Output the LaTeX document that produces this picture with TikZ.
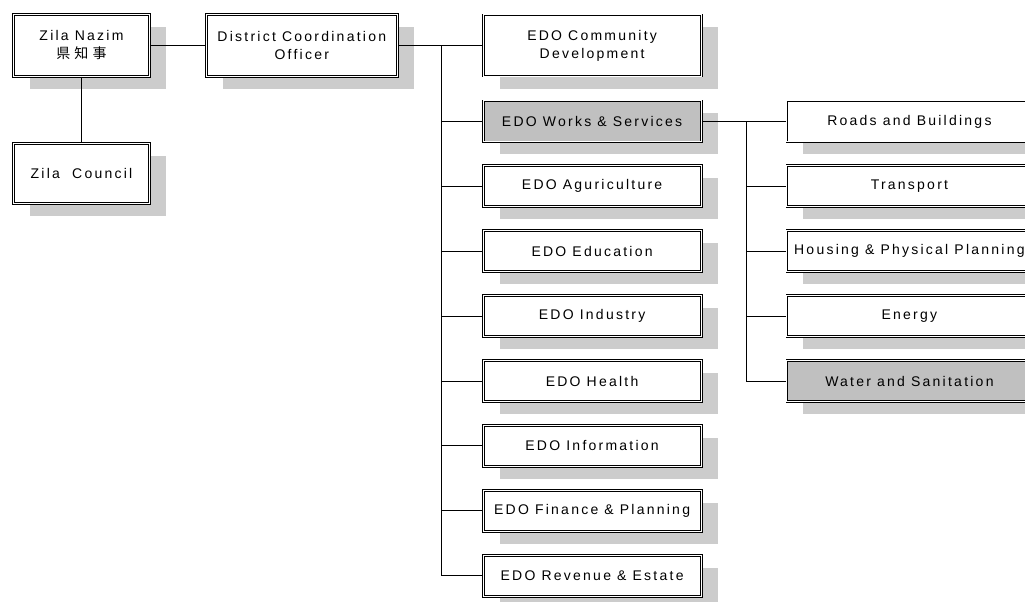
\documentclass[tikz,border=0pt]{standalone}
\usepackage{fontspec}
\setmainfont{Liberation Sans}[LetterSpace=16]
\newfontfamily\jpfont{Noto Sans CJK JP}[LetterSpace=30]
\usepackage{tikz}
\usetikzlibrary{positioning,shadows}
\definecolor{shade}{HTML}{CCCCCC}
\definecolor{boxgray}{HTML}{C0C0C0}

\begin{document}
\begin{tikzpicture}[x=1pt,y=-1pt,
  box/.style={draw,double,double distance=1pt,line width=0.9pt,fill=white,
    general shadow={fill=shade,shadow xshift=16.5pt,shadow yshift=-12.5pt},
    minimum width=218pt,minimum height=41pt,inner sep=0pt,align=center,
    font=\fontsize{14}{18}\selectfont},
  grey/.style={box,fill=boxgray},
  sub/.style={box,minimum width=245pt},
  link/.style={line width=0.9pt},
  node distance=23pt]
\useasboundingbox (0,0) rectangle (1025,602);
\clip (0,0) rectangle (1025,602);
% left side
\node[box,minimum width=136pt,minimum height=62pt] (nazim) at (81.5,45.5) {Zila Nazim\\{\jpfont 県知事}};
\node[box,minimum width=136pt,minimum height=60pt,below=65.9pt of nazim] (council) {Zila~~Council};
\node[box,minimum width=191pt,minimum height=62pt,right=55.9pt of nazim] (dco) {District Coordination\\Officer};
% EDO column
\node[box,minimum height=61pt,right=84.9pt of dco] (community) {EDO Community\\Development};
\node[grey,below=24pt of community] (works) {EDO Works \& Services};
\node[box,below=of works] (agri) {EDO Aguriculture};
\node[box,below=of agri] (educ) {EDO Education};
\node[box,below=of educ] (industry) {EDO Industry};
\node[box,below=of industry] (health) {EDO Health};
\node[box,below=of health] (info) {EDO Information};
\node[box,below=of info] (finance) {EDO Finance \& Planning};
\node[box,below=of finance] (revenue) {EDO Revenue \& Estate};
% works and services
\node[sub,right=84.9pt of works] (roads) {Roads and Buildings};
\node[sub,below=of roads] (transport) {Transport};
\node[sub,below=of transport] (housing) {Housing \& Physical Planning};
\node[sub,below=of housing] (energy) {Energy};
\node[sub,fill=boxgray,below=of energy] (water) {Water and Sanitation};
\coordinate (trunk) at ([xshift=44pt]dco.east);
\coordinate (subtrunk) at ([xshift=45pt]works.east);
\draw[link] (nazim) -- (dco);
\draw[link] (nazim) -- (council);
\draw[link] (dco) -- (community);
\draw[link] (trunk) |- (works.west);
\draw[link] (trunk) |- (agri.west);
\draw[link] (trunk) |- (educ.west);
\draw[link] (trunk) |- (industry.west);
\draw[link] (trunk) |- (health.west);
\draw[link] (trunk) |- (info.west);
\draw[link] (trunk) |- (finance.west);
\draw[link] (trunk) |- (revenue.west);
\draw[link] (works) -- (roads);
\draw[link] (subtrunk) |- (transport.west);
\draw[link] (subtrunk) |- (housing.west);
\draw[link] (subtrunk) |- (energy.west);
\draw[link] (subtrunk) |- (water.west);
\end{tikzpicture}
\end{document}
